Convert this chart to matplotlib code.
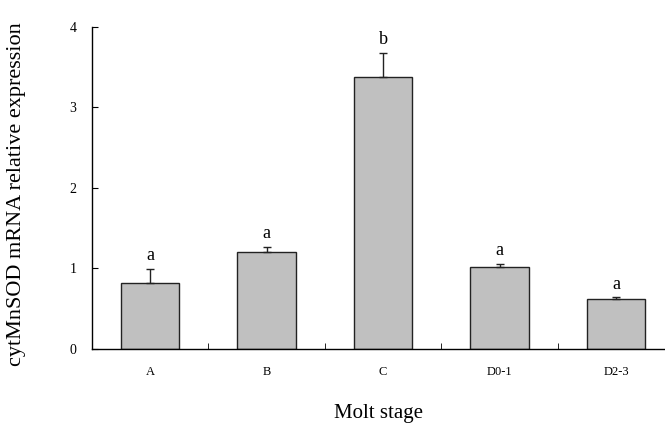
import numpy as np
from matplotlib import pyplot as plt

# Data
stages = ["A", "B", "C", "D0-1", "D2-3"]
means = [0.82, 1.21, 3.38, 1.02, 0.62]
errors = [0.17, 0.06, 0.30, 0.04, 0.02]
letters = ["a", "a", "b", "a", "a"]

plt.rcParams["font.family"] = ["Liberation Serif", "DejaVu Serif"]

fig = plt.figure(figsize=(6.65, 4.34), dpi=100)
ax = fig.add_axes([0.138, 0.196, 0.862, 0.742])

x_pos = np.arange(len(stages))
ax.bar(x_pos, means, width=0.5, color="#c0c0c0", edgecolor="#222222", linewidth=1.0)
ax.errorbar(x_pos, means, yerr=[np.zeros(len(errors)), errors], fmt="none",
            ecolor="#222222", elinewidth=1.0, capsize=3, capthick=1.0)

for xp, m, e, lab in zip(x_pos, means, errors, letters):
    ax.text(xp, m + e + 0.06, lab, ha="center", va="bottom", fontsize=13)

ax.set_xlim(-0.5, 4.42)
ax.set_ylim(0, 4)
ax.set_yticks([0, 1, 2, 3, 4])
ax.set_xticks(x_pos)
ax.set_xticklabels(stages, fontsize=9)
ax.set_xticks(np.arange(0.5, 4.5, 1), minor=True)
ax.tick_params(axis="x", which="major", length=0, pad=12)
ax.tick_params(axis="x", which="minor", direction="in", length=4)
ax.tick_params(axis="y", direction="in", length=4, labelsize=10, pad=11)

for side in ["top", "right"]:
    ax.spines[side].set_visible(False)
for side in ["left", "bottom"]:
    ax.spines[side].set_linewidth(1.0)

ax.set_ylabel("cytMnSOD mRNA relative expression", fontsize=16)
ax.yaxis.set_label_coords(-0.115, 0.48)
ax.set_xlabel("Molt stage", fontsize=15, labelpad=19)

fig.savefig("out.png", dpi=100)
